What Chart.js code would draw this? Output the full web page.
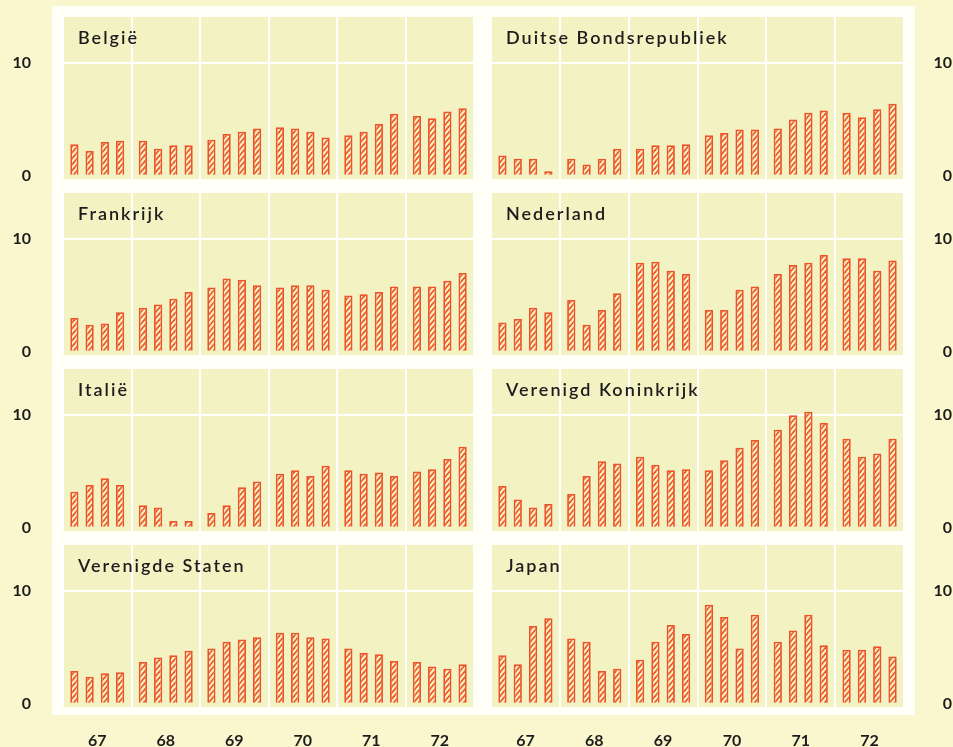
<!DOCTYPE html>
<html><head><meta charset="utf-8">
<script src="https://cdn.jsdelivr.net/npm/chart.js@4.4.0/dist/chart.umd.min.js"></script>
<style>
html,body{margin:0;padding:0;background:#FAF7CF;width:953px;height:747px;overflow:hidden;}
#frame{position:absolute;left:52px;top:6px;width:863px;height:709px;background:#FFFFF8;}
.c{position:absolute;}
</style></head><body>
<div id="frame"></div>
<script>
// ---- data ----
const years = ['67','68','69','70','71','72'];
const quarters = ['K1','K2','K3','K4'];
const yTicks = [0, 10];
const titles = ['België','Duitse Bondsrepubliek','Frankrijk','Nederland','Italië','Verenigd Koninkrijk','Verenigde Staten','Japan'];
const belgie    = [2.8,2.2,3.0,3.1, 3.1,2.4,2.7,2.7, 3.2,3.7,3.9,4.2, 4.3,4.2,3.9,3.4, 3.6,3.9,4.6,5.5, 5.3,5.1,5.7,6.0];
const duitsland = [1.8,1.5,1.5,0.4, 1.5,1.0,1.5,2.4, 2.4,2.7,2.7,2.8, 3.6,3.8,4.1,4.1, 4.2,5.0,5.6,5.8, 5.6,5.2,5.9,6.4];
const frankrijk = [3.0,2.4,2.5,3.5, 3.9,4.2,4.7,5.3, 5.7,6.5,6.4,5.9, 5.7,5.9,5.9,5.5, 5.0,5.1,5.3,5.8, 5.8,5.8,6.3,7.0];
const nederland = [2.6,2.9,3.9,3.5, 4.6,2.4,3.7,5.2, 7.9,8.0,7.2,6.9, 3.7,3.7,5.5,5.8, 6.9,7.7,7.9,8.6, 8.3,8.3,7.2,8.1];
const italie    = [3.2,3.8,4.4,3.8, 2.0,1.8,0.6,0.6, 1.3,2.0,3.6,4.1, 4.8,5.1,4.6,5.5, 5.1,4.8,4.9,4.6, 5.0,5.2,6.1,7.2];
const verenigdKoninkrijk = [3.7,2.5,1.8,2.1, 3.0,4.6,5.9,5.7, 6.3,5.6,5.1,5.2, 5.1,6.0,7.1,7.8, 8.7,10.0,10.3,9.3, 7.9,6.3,6.6,7.9];
const verenigdeStaten    = [2.9,2.4,2.7,2.8, 3.7,4.1,4.3,4.7, 4.9,5.5,5.7,5.9, 6.3,6.3,5.9,5.8, 4.9,4.5,4.4,3.8, 3.7,3.3,3.1,3.5];
const japan     = [4.3,3.5,6.9,7.6, 5.8,5.5,2.9,3.1, 3.9,5.5,7.0,6.2, 8.8,7.7,4.9,7.9, 5.5,6.5,7.9,5.2, 4.8,4.8,5.1,4.2];
const series = [belgie, duitsland, frankrijk, nederland, italie, verenigdKoninkrijk, verenigdeStaten, japan];

// ---- style ----
const PANEL = '#F3F2C3';
const RED = '#EF5228';
const TEXT = '#1c1c1c';
const FONT = 'Lato, "Open Sans", sans-serif';
const rowTops = [17, 193, 369, 545];
const AREA_H = 162;

function hatch(){
  const w = 5, h = 6;
  const c = document.createElement('canvas'); c.width = w; c.height = h;
  const g = c.getContext('2d');
  g.fillStyle = PANEL; g.fillRect(0,0,w,h);
  g.strokeStyle = RED; g.lineWidth = 1.6;
  [-h,0,h].forEach(o => { g.beginPath(); g.moveTo(-w, 2*h+o); g.lineTo(2*w, -h+o); g.stroke(); });
  return g.createPattern(c, 'repeat');
}

const panelPlugin = {
  id: 'panel',
  beforeDraw(chart){
    const a = chart.chartArea, ctx = chart.ctx;
    ctx.save(); ctx.fillStyle = PANEL; ctx.fillRect(a.left, a.top, a.right-a.left, a.bottom-a.top); ctx.restore();
  },
  afterDraw(chart, args, opts){
    const a = chart.chartArea, ctx = chart.ctx;
    ctx.save();
    ctx.font = '600 18px ' + FONT;
    ctx.fillStyle = TEXT;
    ctx.letterSpacing = '2px';
    ctx.textBaseline = 'alphabetic';
    ctx.fillText(opts.text, a.left + 15, a.top + 27);
    ctx.restore();
  }
};

series.forEach((vals, i) => {
  const row = Math.floor(i/2), col = i % 2;
  const bottom = row === 3;
  const div = document.createElement('div');
  div.className = 'c';
  const left = col === 0 ? 0 : 491;
  const width = col === 0 ? 474 : 461;
  const extra = bottom ? 42 : 12;
  const height = AREA_H + extra;
  div.style.left = left + 'px'; div.style.top = rowTops[row] + 'px';
  div.style.width = width + 'px'; div.style.height = height + 'px';
  const cv = document.createElement('canvas');
  div.appendChild(cv); document.body.appendChild(div);
  const pat = hatch();
  const datasets = quarters.map((q, qi) => ({
    label: q,
    data: years.map((y, yi) => vals[yi*4 + qi]),
    backgroundColor: pat,
    borderColor: RED,
    borderWidth: 1.8,
    categoryPercentage: 0.89,
    barPercentage: 0.54
  }));
  new Chart(cv, {
    type: 'bar',
    data: { labels: years, datasets },
    plugins: [panelPlugin],
    options: {
      responsive: true, maintainAspectRatio: false, animation: false,
      devicePixelRatio: 1,
      layout: { padding: { top: 0, left: 0, right: 0, bottom: bottom ? 0 : 12 } },
      plugins: { legend: {display:false}, tooltip: {enabled:false}, panel: { text: titles[i] } },
      scales: {
        x: {
          offset: true,
          afterFit: a => { a.paddingLeft = 0; a.paddingRight = 0; a.height = bottom ? 42 : 0; },
          grid: { display: true, offset: true, color: '#FFFFFF', lineWidth: 2, drawTicks: false },
          border: { display: false },
          ticks: { display: bottom, padding: 24, color: TEXT, font: { family: FONT, size: 16, weight: 'bold' } }
        },
        y: {
          position: col === 0 ? 'left' : 'right',
          min: -0.3, max: 14.1,
          afterBuildTicks: a => { a.ticks = yTicks.map(v => ({ value: v })); },
          afterFit: a => { a.width = col === 0 ? 63 : 48; a.paddingTop = 0; a.paddingBottom = 0; },
          grid: { color: c => (c.tick && c.tick.value === 10) ? '#FFFFFF' : 'rgba(0,0,0,0)', lineWidth: 2, drawTicks: false },
          border: { display: false },
          ticks: { padding: 32, crossAlign: col === 0 ? 'near' : 'far', color: TEXT, font: { family: FONT, size: 16, weight: 'bold' } }
        }
      }
    }
  });
});
</script>
</body></html>
